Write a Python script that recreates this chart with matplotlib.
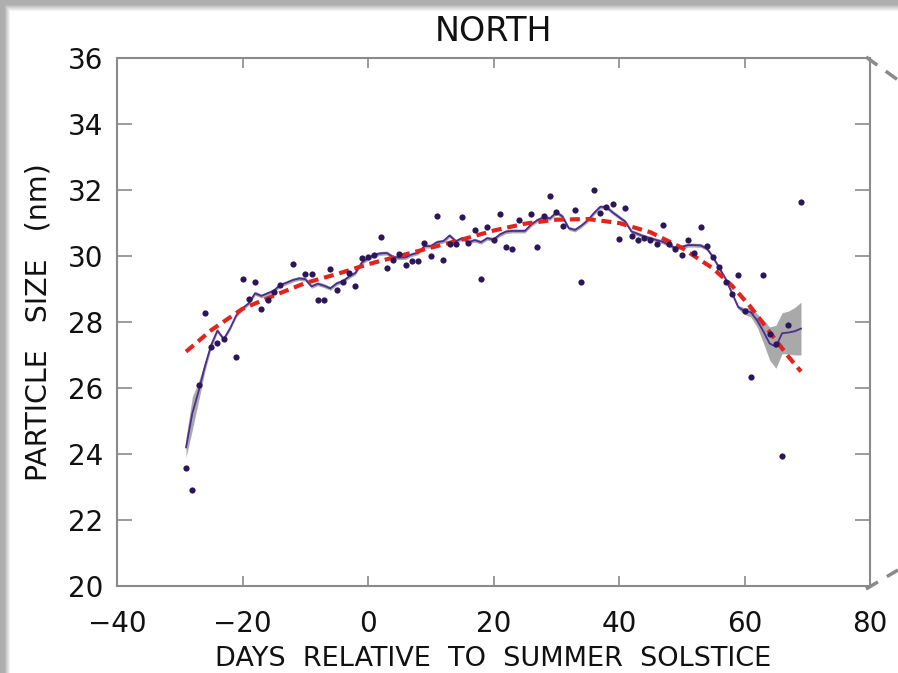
import numpy as np
import matplotlib
matplotlib.use("Agg")
import matplotlib.pyplot as plt
from matplotlib.lines import Line2D

# ---------------- data ----------------
scatter_days = [-29, -28, -27, -26, -25, -24, -23, -21, -20, -19, -18, -17, -16, -15, -14,
                -12, -10, -9, -8, -7, -6, -5, -4, -3, -2, -1, 0, 1, 2, 3, 4, 5, 6, 7, 8,
                9, 10, 11, 12, 13, 14, 15, 16, 17, 18, 19, 20, 21, 22, 23, 24, 26, 27, 28,
                29, 30, 31, 33, 34, 36, 37, 38, 39, 40, 41, 42, 43, 44, 45, 46, 47, 48, 49,
                50, 51, 52, 53, 54, 55, 56, 57, 58, 59, 60, 61, 63, 64, 65, 66, 67, 69]
scatter_vals = [23.58, 22.90, 26.09, 28.28, 27.25, 27.37, 27.47, 26.95, 29.29, 28.69, 29.20,
                28.40, 28.67, 28.92, 29.11, 29.76, 29.45, 29.45, 28.67, 28.67, 29.60, 28.96,
                29.20, 29.47, 29.10, 29.94, 29.98, 30.03, 30.58, 29.65, 29.88, 30.06, 29.74,
                29.84, 29.84, 30.39, 30.00, 31.22, 29.88, 30.36, 30.36, 31.17, 30.39, 30.79,
                29.31, 30.87, 30.49, 31.26, 30.26, 30.21, 31.10, 31.26, 30.26, 31.22, 31.81,
                31.34, 30.90, 31.40, 29.22, 32.00, 31.31, 31.47, 31.58, 30.52, 31.44, 30.61,
                30.47, 30.54, 30.47, 30.37, 30.93, 30.35, 30.20, 30.02, 30.49, 30.10, 30.88,
                30.29, 29.96, 29.68, 29.22, 28.86, 29.43, 28.33, 26.34, 29.43, 27.64, 27.32,
                23.95, 27.90, 31.65]

smooth_days = list(range(-29, 70))
smooth_vals = [24.20, 25.23, 25.90, 26.65, 27.30, 27.74, 27.48, 27.80, 28.20, 28.41,
               28.57, 28.87, 28.79, 28.87, 28.95, 29.12, 29.19, 29.27, 29.32, 29.30,
               29.08, 29.16, 29.10, 29.02, 29.17, 29.24, 29.38, 29.49, 29.80, 29.93,
               30.04, 30.08, 30.09, 29.97, 29.95, 29.96, 30.05, 30.10, 30.30, 30.30,
               30.42, 30.45, 30.62, 30.45, 30.54, 30.42, 30.48, 30.42, 30.54, 30.50,
               30.65, 30.74, 30.76, 30.76, 30.76, 30.95, 31.09, 31.17, 31.14, 31.32,
               31.20, 30.84, 30.79, 30.92, 31.08, 31.30, 31.49, 31.48, 31.32, 31.18,
               31.04, 30.74, 30.67, 30.59, 30.54, 30.48, 30.43, 30.33, 30.24, 30.28,
               30.33, 30.33, 30.32, 30.23, 29.96, 29.63, 29.30, 28.88, 28.45, 28.33,
               28.30, 28.05, 27.72, 27.35, 27.25, 27.66, 27.68, 27.72, 27.80]
band_half = [0.30, 0.50, 0.30, 0.15, 0.10] + [0.06] * 84 + \
            [0.10, 0.15, 0.20, 0.35, 0.50, 0.65, 0.62, 0.65, 0.72, 0.80]

fit_days = [-29, -25, -20, -15, -10, -5, 0, 5, 10, 15, 20, 25, 30, 35, 40, 45, 50, 55, 58, 61, 64, 67, 69]
fit_vals = [27.10, 27.75, 28.40, 28.80, 29.18, 29.45, 29.75, 30.00, 30.25, 30.50, 30.77,
            30.98, 31.10, 31.12, 31.00, 30.72, 30.25, 29.62, 29.10, 28.45, 27.70, 26.95, 26.50]

xticks = [-40, -20, 0, 20, 40, 60, 80]
yticks = [20, 22, 24, 26, 28, 30, 32, 34, 36]

# ---------------- figure ----------------
W, H = 898, 673
fig = plt.figure(figsize=(W / 100, H / 100), dpi=100)

# card-like background with a soft gray edge on top/left
bg = fig.add_axes([0, 0, 1, 1], zorder=-10)
yy, xx = np.mgrid[0:H, 0:W]
top = np.clip((yy - 4) / 7.0, 0, 1)
left = np.clip((xx - 4) / 6.0, 0, 1)
shade = np.minimum(0.68 + 0.32 * top, 0.68 + 0.32 * left)
bg.imshow(shade, cmap="gray", vmin=0, vmax=1, aspect="auto", interpolation="bilinear")
bg.set_axis_off()

ax = fig.add_axes([117 / W, 1 - 586 / H, (870 - 117) / W, (586 - 58) / H])
ax.set_facecolor("white")

lo = [v - h for v, h in zip(smooth_vals, band_half)]
hi = [v + h for v, h in zip(smooth_vals, band_half)]
ax.fill_between(smooth_days, lo, hi, color="#a9a9a9", lw=0, zorder=2)
ax.plot(smooth_days, smooth_vals, color="#4c2c96", lw=1.3, zorder=3)
ax.plot(fit_days, fit_vals, color="#e3241c", lw=3.0, linestyle=(0, (2.4, 1.4)), zorder=4)
ax.scatter(scatter_days, scatter_vals, s=20, color="#2c1658", lw=0, zorder=5)

ax.set_xlim(-40, 80)
ax.set_ylim(20, 36)
ax.set_xticks(xticks)
ax.set_yticks(yticks)
ax.set_xticklabels([f"{t:d}".replace("-", "\u2212") for t in xticks])
ax.set_yticklabels([str(t) for t in yticks])

for s in ax.spines.values():
    s.set_color("#8a8a8a")
    s.set_linewidth(1.5)
ax.tick_params(axis="x", direction="in", length=7.5, width=1.2, color="#8a8a8a",
               top=True, labelsize=20, pad=17, labelcolor="#111111")
ax.tick_params(axis="y", direction="in", length=10.5, width=1.2, color="#8a8a8a",
               right=True, labelsize=20, pad=10, labelcolor="#111111")

ax.set_title("NORTH", fontsize=24, pad=12, color="#111111")
ax.set_xlabel("DAYS  RELATIVE  TO  SUMMER  SOLSTICE", fontsize=19.5, labelpad=6, color="#111111")
ax.set_ylabel("PARTICLE   SIZE   (nm)", fontsize=20.5, labelpad=11, color="#111111")

# connector dashes at the right edge
for (x0, y0, x1, y1) in [(866, 57, 898, 80), (866, 589, 898, 570)]:
    fig.add_artist(Line2D([x0 / W, x1 / W], [1 - y0 / H, 1 - y1 / H], color="#8a8a8a",
                          lw=2.5, linestyle=(0, (4, 3))))

fig.savefig("out.png", dpi=100)
